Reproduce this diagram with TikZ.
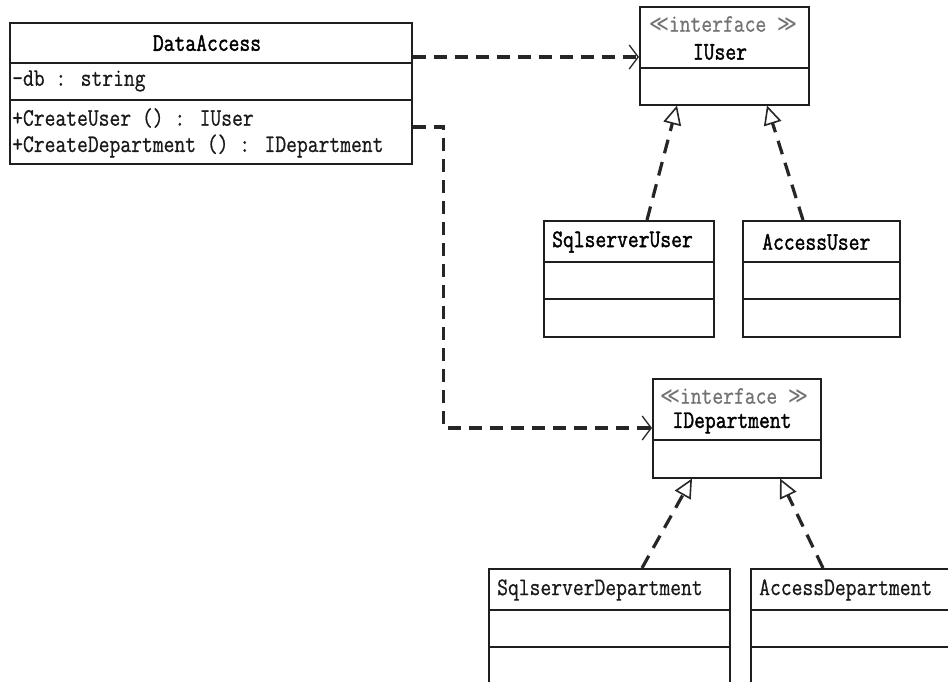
\documentclass[tikz,border=0pt]{standalone}
\usepackage{graphicx}
\usepackage{fontspec}
\newfontfamily\umlfont{Latin Modern Mono}[FakeBold=0.7]
\newfontfamily\umlbold{Latin Modern Mono}[FakeBold=1.6]
\newfontfamily\symfont{DejaVu Sans}
\newcommand\tallt[1]{\scalebox{1}[1.2]{#1}}
\usetikzlibrary{arrows.meta,calc}
\begin{document}
\begin{tikzpicture}[x=1pt,y=-1pt,
  box/.style={draw=black!88, line width=1.5pt, anchor=north west, inner sep=0pt, fill=none},
  sepline/.style={draw=black!88, line width=1.5pt},
  txt/.style={font=\umlfont\fontsize{21}{23}\selectfont, inner sep=0pt, text=black!90},
  ttl/.style={font=\umlbold\fontsize{21}{23}\selectfont, inner sep=0pt, text=black},
  stereo/.style={txt, text=black!55},
  dep/.style={draw=black!85, line width=3.2pt, dash pattern=on 13pt off 8pt, -{Straight Barb[length=9pt,width=24pt,line width=1.3pt]}},
  real/.style={draw=black!85, line width=3.2pt, dash pattern=on 14pt off 9pt, -{Triangle[open,length=19pt,width=18pt,line width=1.6pt,fill=white]}}]
\useasboundingbox (0,0) rectangle (948,681);
\clip (0,0) rectangle (948,681);
\fill[white] (0,0) rectangle (948,681);

% DataAccess
\node[box, minimum width=402pt, minimum height=141pt] (da) at (9,22) {};
\draw[sepline] ($(da.north west)+(0,41)$) -- ($(da.north east)+(0,41)$);
\draw[sepline] ($(da.north west)+(0,78)$) -- ($(da.north east)+(0,78)$);
\node[ttl] (daT) at (207,43) {\tallt{DataAccess}};
\node[txt, anchor=west] (daA) at (12,81) {\tallt{-db : string}};
\node[txt, anchor=west] (daM1) at (12,118) {\tallt{+CreateUser () : IUser}};
\node[txt, anchor=west] (daM2) at (12,146) {\tallt{+CreateDepartment () : IDepartment}};

% IUser
\node[box, minimum width=169pt, minimum height=98pt] (iu) at (639,6) {};
\draw[sepline] ($(iu.north west)+(0,62)$) -- ($(iu.north east)+(0,62)$);
\node[stereo] (iuS) at (723,24) {\tallt{{\symfont\fontsize{19}{21}\selectfont ≪}interface {\symfont\fontsize{19}{21}\selectfont ≫}}};
\node[ttl] (iuT) at (720,52) {\tallt{IUser}};

% SqlserverUser
\node[box, minimum width=170pt, minimum height=116pt] (su) at (543,220) {};
\draw[sepline] ($(su.north west)+(0,42)$) -- ($(su.north east)+(0,42)$);
\draw[sepline] ($(su.north west)+(0,79)$) -- ($(su.north east)+(0,79)$);
\node[ttl, anchor=west] (suT) at (552,242) {\tallt{SqlserverUser}};

% AccessUser
\node[box, minimum width=157pt, minimum height=116pt] (au) at (742,220) {};
\draw[sepline] ($(au.north west)+(0,42)$) -- ($(au.north east)+(0,42)$);
\draw[sepline] ($(au.north west)+(0,79)$) -- ($(au.north east)+(0,79)$);
\node[ttl, anchor=west] (auT) at (762,242) {\tallt{AccessUser}};

% IDepartment
\node[box, minimum width=168pt, minimum height=99pt] (idp) at (652,378) {};
\draw[sepline] ($(idp.north west)+(0,62)$) -- ($(idp.north east)+(0,62)$);
\node[stereo] (idpS) at (734,396) {\tallt{{\symfont\fontsize{19}{21}\selectfont ≪}interface {\symfont\fontsize{19}{21}\selectfont ≫}}};
\node[ttl] (idpT) at (732,423) {\tallt{IDepartment}};

% SqlserverDepartment
\node[box, minimum width=241pt, minimum height=140pt] (sd) at (488,568) {};
\draw[sepline] ($(sd.north west)+(0,42)$) -- ($(sd.north east)+(0,42)$);
\draw[sepline] ($(sd.north west)+(0,79)$) -- ($(sd.north east)+(0,79)$);
\node[txt, anchor=west] (sdT) at (497,590) {\tallt{SqlserverDepartment}};

% AccessDepartment
\node[box, minimum width=220pt, minimum height=140pt] (ad) at (750,568) {};
\draw[sepline] ($(ad.north west)+(0,42)$) -- ($(ad.north east)+(0,42)$);
\draw[sepline] ($(ad.north west)+(0,79)$) -- ($(ad.north east)+(0,79)$);
\node[txt, anchor=west] (adT) at (759,590) {\tallt{AccessDepartment}};

% dependencies
\coordinate (d1s) at ($(da.north east)+(0,35)$);
\coordinate (d1e) at ($(iu.north west)+(0,51)$);
\draw[dep] (d1s) -- (d1e);
\coordinate (d2s) at ($(da.north east)+(0,105)$);
\coordinate (d2c) at ($(d2s)+(31,0)$);
\coordinate (d2e) at ($(idp.north west)+(0,50)$);
\draw[dep] (d2s) -- (d2c) |- (d2e);

% realizations
\draw[real] ($(su.north west)+(104,0)$) -- ($(iu.south west)+(38,0)$);
\draw[real] ($(au.north west)+(61,0)$) -- ($(iu.south west)+(128,0)$);
\draw[real] ($(sd.north west)+(154,0)$) -- ($(idp.south west)+(40,0)$);
\draw[real] ($(ad.north west)+(73,0)$) -- ($(idp.south west)+(128,0)$);
\end{tikzpicture}
\end{document}
